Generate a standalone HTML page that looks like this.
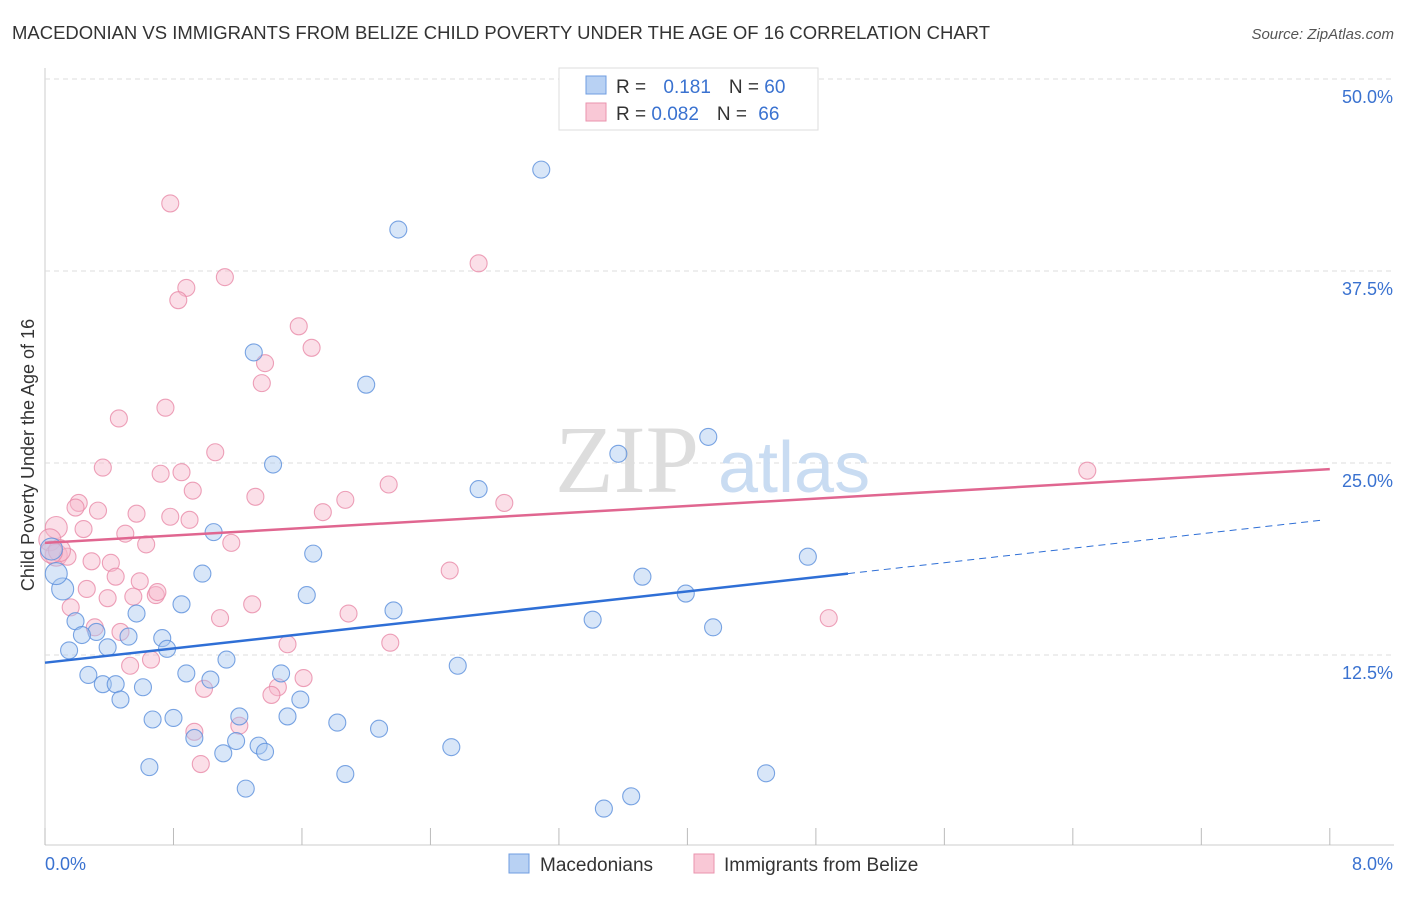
<!DOCTYPE html>
<html><head><meta charset="utf-8"><style>
body{margin:0;background:#fff;font-family:"Liberation Sans",sans-serif;}
</style></head><body>
<svg width="1406" height="892" xmlns="http://www.w3.org/2000/svg">
<text x="12" y="39" font-size="18" fill="#333" textLength="978" lengthAdjust="spacingAndGlyphs">MACEDONIAN VS IMMIGRANTS FROM BELIZE CHILD POVERTY UNDER THE AGE OF 16 CORRELATION CHART</text>
<text x="1394" y="39" font-size="15" fill="#555" font-style="italic" text-anchor="end">Source: ZipAtlas.com</text>
<g id="grid"></g>
<text x="555" y="492" font-size="96" fill="#ddd" font-family="Liberation Serif">ZIP</text>
<text x="718" y="492" font-size="72" fill="#c9dcf2">atlas</text>
<g id="marks"></g>
<text x="34" y="455" font-size="18" fill="#333" text-anchor="middle" transform="rotate(-90 34 455)">Child Poverty Under the Age of 16</text>
<g>
<rect x="559" y="68" width="259" height="62" fill="#fff" stroke="#ddd"/>
<rect x="586" y="76" width="20" height="18" fill="#b8d1f3" stroke="#6f9de0"/>
<rect x="586" y="103" width="20" height="18" fill="#f9c8d6" stroke="#ea93ae"/>
<text x="616" y="93" font-size="19" fill="#333">R = <tspan fill="#3a72d0" dx="12">0.181</tspan><tspan dx="18" fill="#333">N = </tspan><tspan fill="#3a72d0">60</tspan></text>
<text x="616" y="120" font-size="19" fill="#333">R = <tspan fill="#3a72d0">0.082</tspan><tspan dx="18" fill="#333">N = </tspan><tspan fill="#3a72d0" dx="6">66</tspan></text>
</g>
<g>
<rect x="509" y="854" width="20" height="19" fill="#b8d1f3" stroke="#6f9de0"/>
<text x="540" y="871" font-size="19" fill="#333">Macedonians</text>
<rect x="694" y="854" width="20" height="19" fill="#f9c8d6" stroke="#ea93ae"/>
<text x="724" y="871" font-size="19" fill="#333">Immigrants from Belize</text>
</g>
</svg>
<script>
const xTicks=[0,0.8,1.6,2.4,3.2,4,4.8,5.6,6.4,7.2,8];
const yTicks=[12.5,25,37.5,50];
const yTickLabels=["12.5%","25.0%","37.5%","50.0%"];
const blueX=[3.09,2.2,1.3,2.0,4.13,3.57,1.42,2.7,1.05,1.67,4.75,3.72,0.98,3.99,1.63,0.85,2.17,0.57,3.41,4.16,0.19,0.32,0.23,0.52,0.73,0.39,0.76,0.15,2.57,1.13,1.47,0.88,0.27,1.03,0.36,0.44,0.61,0.47,1.59,0.67,0.8,1.21,1.51,1.82,2.08,0.93,1.19,1.33,1.37,1.11,2.53,0.65,1.87,4.49,1.25,3.65,3.48,0.11,0.07,0.04];
const blueY=[44.1,40.2,32.2,30.1,26.7,25.6,24.9,23.3,20.5,19.1,18.9,17.6,17.8,16.5,16.4,15.8,15.4,15.2,14.8,14.3,14.7,14.0,13.8,13.7,13.6,13.0,12.9,12.8,11.8,12.2,11.3,11.3,11.2,10.9,10.6,10.6,10.4,9.6,9.6,8.3,8.4,8.5,8.5,8.1,7.7,7.1,6.9,6.6,6.2,6.1,6.5,5.2,4.75,4.8,3.8,3.3,2.5,16.8,17.8,19.4];
const pinkX=[0.78,2.7,1.12,0.88,0.83,1.58,1.66,1.37,1.35,0.75,0.46,1.06,0.36,0.72,0.85,2.14,0.92,1.31,1.87,0.21,0.19,2.86,0.33,1.73,0.57,0.78,0.9,0.24,0.5,0.07,0.63,1.16,0.03,0.07,0.14,0.29,0.41,2.52,0.44,0.59,0.26,0.69,0.7,0.39,0.55,1.29,0.16,1.89,1.09,4.88,0.31,0.47,1.51,2.15,0.66,0.53,1.61,1.45,1.41,0.99,1.21,0.93,0.97,6.49,0.09,0.04];
const pinkY=[41.9,38.0,37.1,36.4,35.6,33.9,32.5,31.5,30.2,28.6,27.9,25.7,24.7,24.3,24.4,23.6,23.2,22.8,22.6,22.4,22.1,22.4,21.9,21.8,21.7,21.5,21.3,20.7,20.4,20.8,19.7,19.8,20.0,19.0,18.9,18.6,18.5,18.0,17.6,17.3,16.8,16.4,16.6,16.2,16.3,15.8,15.6,15.2,14.9,14.9,14.3,14.0,13.2,13.3,12.2,11.8,11.0,10.4,9.9,10.3,7.9,7.5,5.4,24.5,19.3,19.2];
const X=v=>45+v*160.6, Y=v=>847-v*15.36;
const ns="http://www.w3.org/2000/svg";
const grid=document.getElementById('grid'), marks=document.getElementById('marks');
function mk(tag,attrs,parent){const e=document.createElementNS(ns,tag);for(const k in attrs)e.setAttribute(k,attrs[k]);parent.appendChild(e);return e;}
let ax=mk('line',{x1:45,y1:68,x2:45,y2:845,stroke:'#ccc'},grid);


let bx=mk('line',{x1:45,y1:845,x2:1394,y2:845,stroke:'#ccc'},grid);


yTicks.forEach((t,i)=>{
 let g=mk('line',{x1:45,y1:Y(t),x2:1394,y2:Y(t),stroke:'#ddd','stroke-dasharray':'5,4'},grid);
 
 
 let tx=mk('text',{x:1393,y:Y(t)+24,'font-size':18,fill:'#3a72d0','text-anchor':'end'},grid);
 tx.textContent=yTickLabels[i];
 
 
});
xTicks.forEach(t=>{
 let l=mk('line',{x1:X(t),y1:828,x2:X(t),y2:845,stroke:'#bbb'},grid);
 
 
});
[[0,"0.0%",'start',45],[8,"8.0%",'end',1393]].forEach(a=>{
 let tx=mk('text',{x:a[3],y:870,'font-size':18,fill:'#3a72d0','text-anchor':a[2]},grid);
 tx.textContent=a[1];
 
 
});
function dots(xs,ys,fill,stroke,name){xs.forEach((x,i)=>{
 const big=x<0.12;
 let c=mk('circle',{cx:X(x),cy:Y(ys[i]),r:big?11:8.5,fill:fill,'fill-opacity':0.45,stroke:stroke,'stroke-opacity':0.8,'stroke-width':1.1},marks);
 
 
});}
dots(pinkX,pinkY,'#f7b9cb','#e98aa8','belize-point');
dots(blueX,blueY,'#a9c8f0','#5a8fdc','macedonian-point');
let t1=mk('line',{x1:X(0),y1:Y(19.8),x2:X(8),y2:Y(24.6),stroke:'#e06690','stroke-width':2.5},marks);


let t2=mk('line',{x1:X(0),y1:Y(12.0),x2:X(5),y2:Y(17.8),stroke:'#2f6fd6','stroke-width':2.5},marks);


let t3=mk('line',{x1:X(5),y1:Y(17.8),x2:X(7.97),y2:Y(21.3),stroke:'#2f6fd6','stroke-width':1,'stroke-dasharray':'7,5'},marks);


</script>
</body></html>
